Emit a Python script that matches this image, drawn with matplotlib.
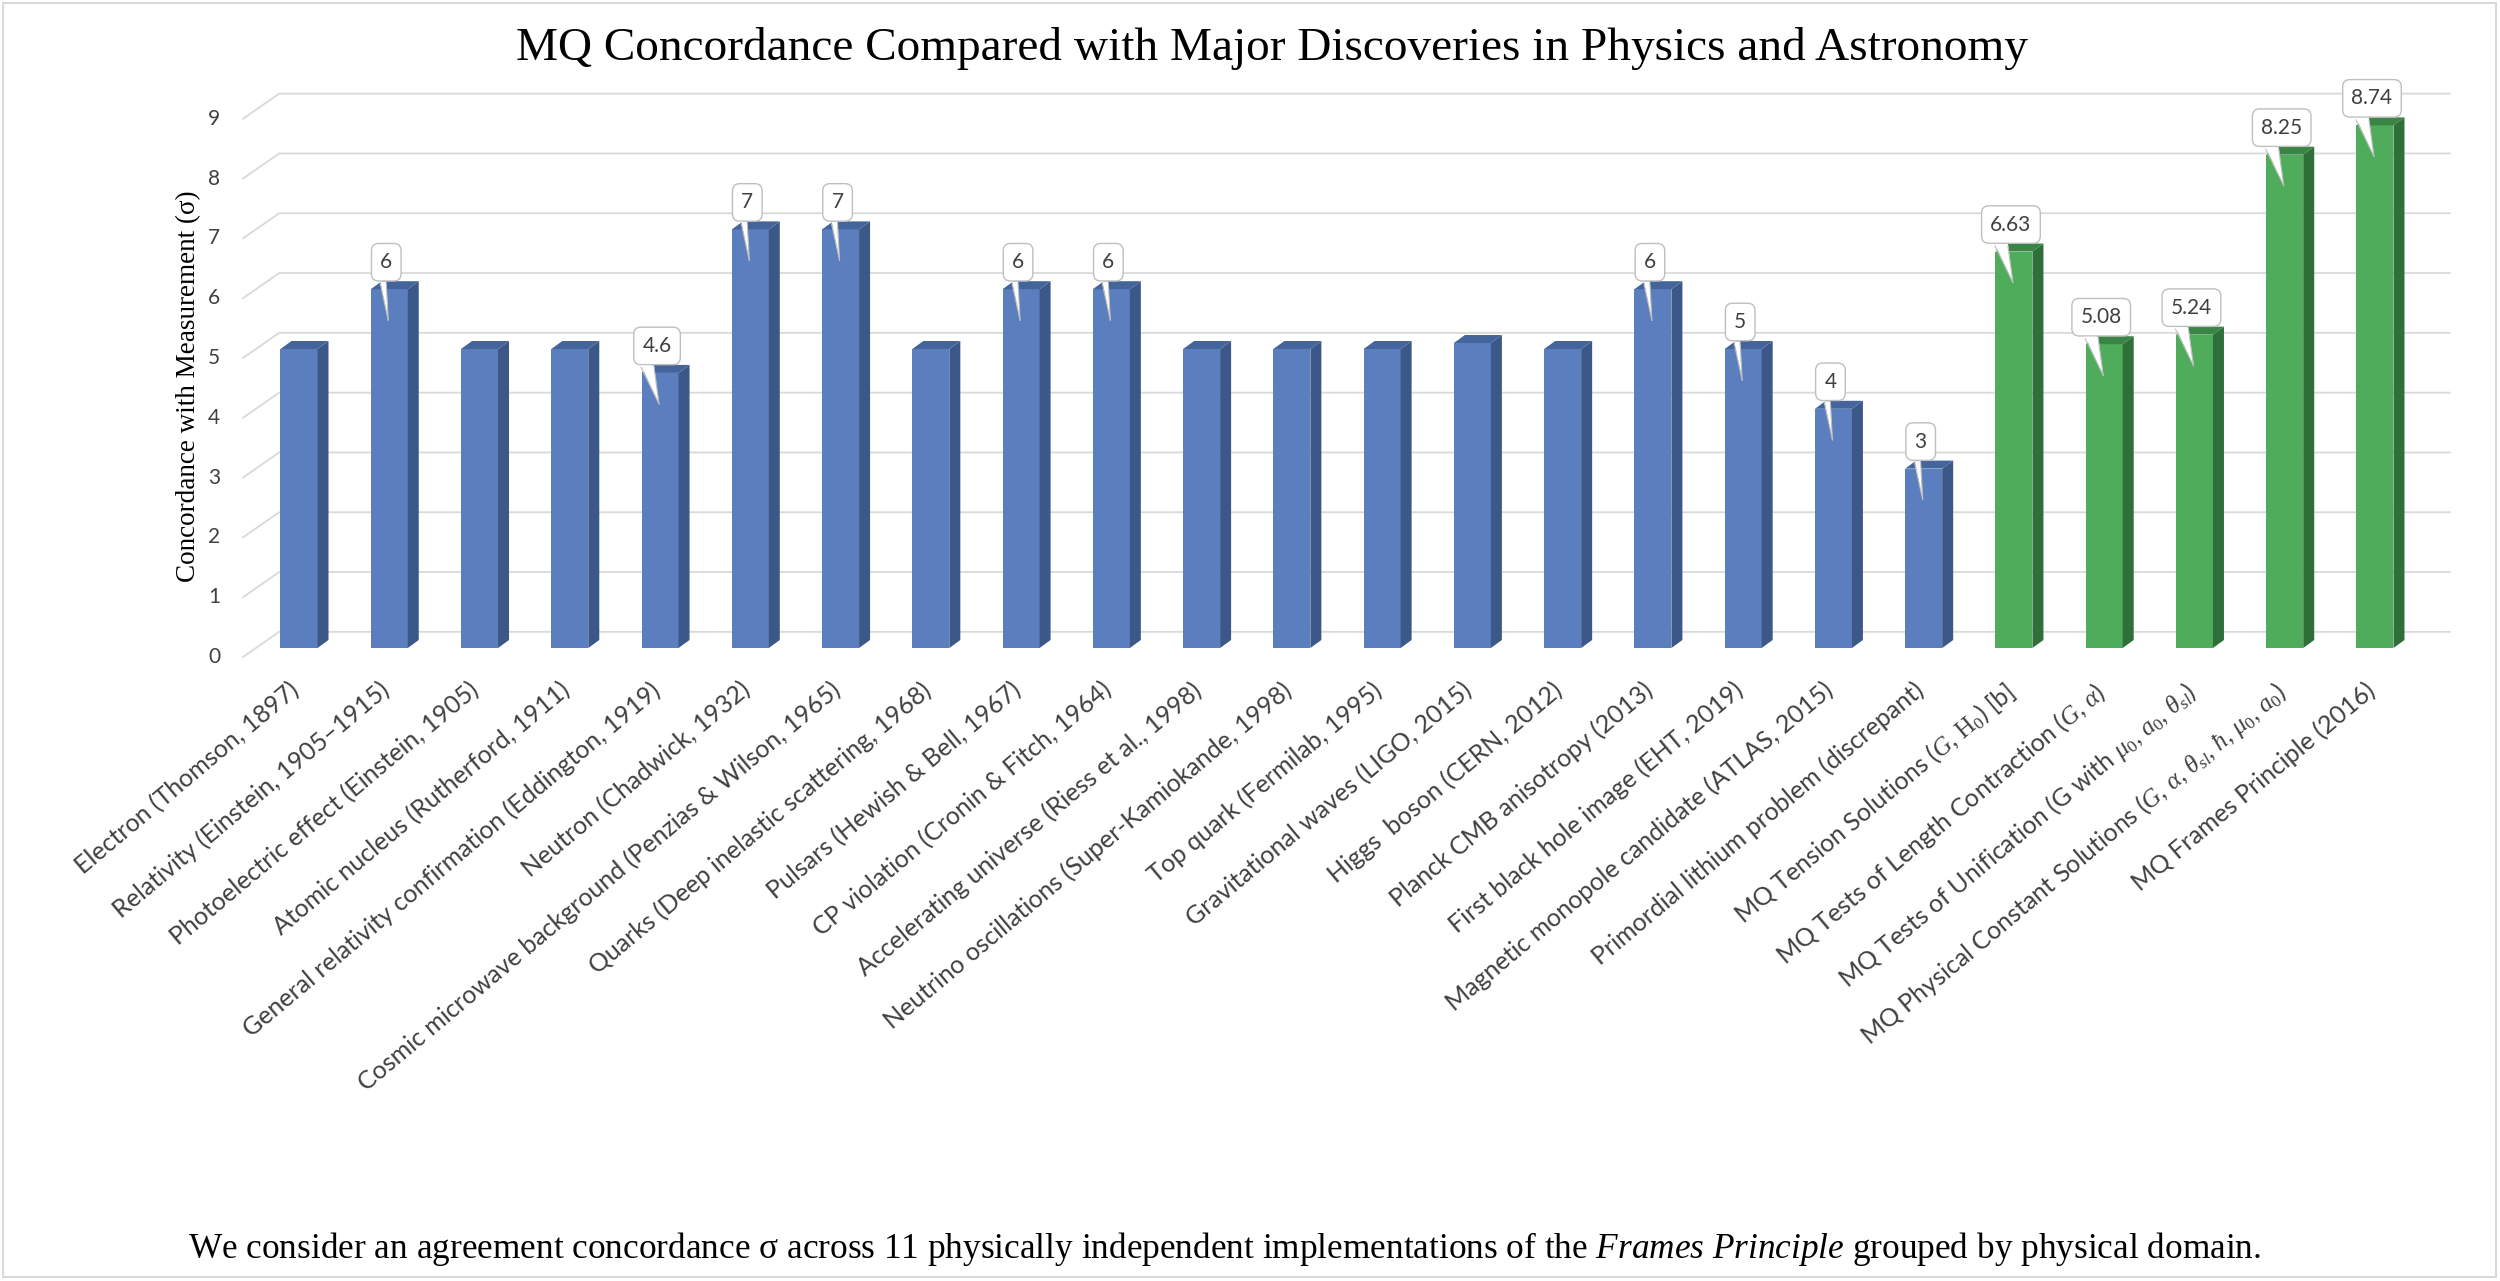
import matplotlib
matplotlib.use("Agg")
import matplotlib.pyplot as plt
from matplotlib.patches import Polygon, Rectangle
from matplotlib.transforms import Affine2D, ScaledTranslation

plt.rcParams['mathtext.fontset'] = 'custom'
plt.rcParams['mathtext.rm'] = 'Liberation Serif'
plt.rcParams['mathtext.it'] = 'Liberation Serif:italic'

############################## DATA ##########################################
labels = [
    "Electron (Thomson, 1897)",
    "Relativity (Einstein, 1905\u20131915)",
    "Photoelectric effect (Einstein, 1905)",
    "Atomic nucleus (Rutherford, 1911)",
    "General relativity confirmation (Eddington, 1919)",
    "Neutron (Chadwick, 1932)",
    "Cosmic microwave background (Penzias & Wilson, 1965)",
    "Quarks (Deep inelastic scattering, 1968)",
    "Pulsars (Hewish & Bell, 1967)",
    "CP violation (Cronin & Fitch, 1964)",
    "Accelerating universe (Riess et al., 1998)",
    "Neutrino oscillations (Super-Kamiokande, 1998)",
    "Top quark (Fermilab, 1995)",
    "Gravitational waves (LIGO, 2015)",
    "Higgs  boson (CERN, 2012)",
    "Planck CMB anisotropy (2013)",
    "First black hole image (EHT, 2019)",
    "Magnetic monopole candidate (ATLAS, 2015)",
    "Primordial lithium problem (discrepant)",
    r"MQ Tension Solutions ($G$, $\mathrm{H}_0$) [b]",
    r"MQ Tests of Length Contraction ($G$, $\alpha$)",
    r"MQ Tests of Unification (G with $\mu_0$, $a_0$, $\theta_{sl}$)",
    r"MQ Physical Constant Solutions ($G$, $\alpha$, $\theta_{sl}$, $\hbar$, $\mu_0$, $a_0$)",
    "MQ Frames Principle (2016)",
]
values = [5, 6, 5, 5, 4.6, 7, 7, 5, 6, 6, 5, 5, 5, 5.1, 5, 6, 5, 4, 3,
          6.63, 5.08, 5.24, 8.25, 8.74]
# data labels shown above bars (None = no callout)
callouts = [None, "6", None, None, "4.6", "7", "7", None, "6", "6", None, None,
            None, None, None, "6", "5", "4", "3",
            "6.63", "5.08", "5.24", "8.25", "8.74"]
is_mq = [lab.startswith("MQ") for lab in labels]
yticks = list(range(10))

title = "MQ Concordance Compared with Major Discoveries in Physics and Astronomy"
ylabel = "Concordance with Measurement (\u03c3)"
caption = ("We consider an agreement concordance \u03c3 across 11 physically independent "
           r"implementations of the $\mathit{Frames\ Principle}$ grouped by physical domain.")

############################## STYLE #########################################
blue = ("#5b7fbe", "#3b5888", "#44659c")
green = ("#4fac5b", "#2f703a", "#3a8446")
grid_c = "#d9d9d9"
txt_c = "#404040"
sans = ["Lato", "DejaVu Sans"]
serif = ["Liberation Serif", "DejaVu Serif"]

W, H, DPI = 2500, 1281, 100
fig = plt.figure(figsize=(W / DPI, H / DPI), dpi=DPI)
fig.patch.set_facecolor("white")

px_x = 90.26   # pixels per category
px_y = 59.8    # pixels per sigma
base_px = 648  # bar base, from top
ax = fig.add_axes([(299 - 0.5 * px_x) / W, (H - base_px) / H,
                   24 * px_x / W, 9 * px_y / H])
ax.set_xlim(-0.5, 23.5)
ax.set_ylim(0, 9)
ax.axis("off")

# depth of the fake 3D look, in data units
ddx = 11 / px_x
ddy = 8 / px_y

############################## GRID + TICKS ##################################
for v in yticks:
    ax.plot([-0.62, -0.22, 23.83], [v - 0.15, v + 0.27, v + 0.27],
            color=grid_c, lw=1.3, clip_on=False, zorder=1)
    ax.text(-0.94, v - 0.15, str(v), ha="center", va="center",
            fontsize=15, family=sans, color=txt_c, clip_on=False)

############################## BARS ##########################################
w = 0.41
x = list(range(len(values)))
fronts = [green[0] if m else blue[0] for m in is_mq]
ax.bar(x, values, width=w, color=fronts, zorder=3)
for i, v in enumerate(values):
    c = green if is_mq[i] else blue
    x1 = i + w / 2
    ax.add_patch(Polygon([(x1, 0), (x1 + ddx, ddy), (x1 + ddx, v + ddy), (x1, v)],
                         closed=True, fc=c[1], ec="none", zorder=3))
    ax.add_patch(Polygon([(i - w / 2, v), (x1, v), (x1 + ddx, v + ddy),
                          (i - w / 2 + ddx, v + ddy)],
                         closed=True, fc=c[2], ec="none", zorder=3))


############################## CALLOUTS ######################################
def px_at(xd, yd):
    # pixel offsets around a data point
    return Affine2D() + ScaledTranslation(xd, yd, ax.transData)


for i, (v, lab) in enumerate(zip(values, callouts)):
    if lab is None:
        continue
    tr = px_at(i, v)
    ax.text(-3, 27, lab, transform=tr, ha="center", va="center", fontsize=15,
            family=sans, color=txt_c, zorder=6,
            bbox=dict(boxstyle="round,pad=0.42,rounding_size=0.35",
                      fc="white", ec="#bfbfbf", lw=1.0))
    bl, br = (-19, -6) if len(lab) > 1 else (-9, -3)
    tip = (-1, -31)
    ax.add_patch(Polygon([(bl, 7.5), (br, 7.5), tip], closed=True, fc="white",
                         ec="none", transform=tr, zorder=7, clip_on=False))
    for bx in (bl, br):
        ax.plot([bx, tip[0]], [5.5, tip[1]], color="#bfbfbf", lw=0.8,
                transform=tr, zorder=7, clip_on=False)

############################## X LABELS ######################################
for i, lab in enumerate(labels):
    ax.text(i - 0.12, -0.5, lab, rotation=40, rotation_mode="anchor",
            ha="right", va="top", fontsize=18, family=sans, color=txt_c,
            clip_on=False)

############################## TEXTS #########################################
fig.text(1272 / W, 1 - 48 / H, title, ha="center", va="center",
         fontsize=34, family=serif, color="black")
fig.text(189 / W, 1 - 386 / H, ylabel, ha="center", va="center", rotation=90,
         fontsize=19.5, family=serif, color="black")
fig.text(1225 / W, 1 - 1258 / H, caption, ha="center", va="baseline",
         fontsize=25.4, family=serif, color="black")

fig.patches.append(Rectangle((3 / W, 4 / H), 2493 / W, 1274 / H,
                             transform=fig.transFigure, fill=False,
                             ec=grid_c, lw=1.5))

fig.savefig("out.png", dpi=DPI, facecolor="white")
